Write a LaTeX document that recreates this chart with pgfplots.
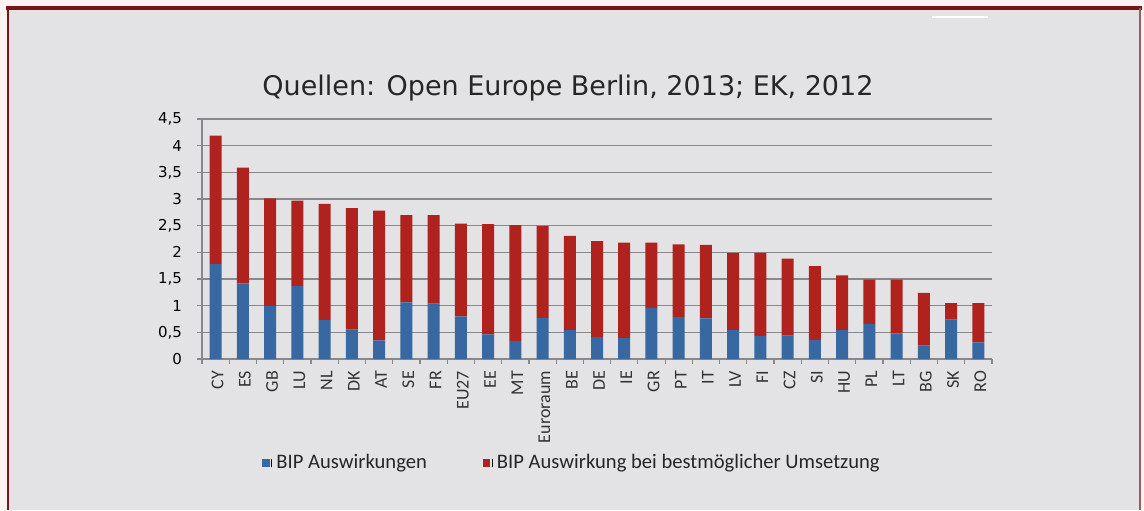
\documentclass[border=0pt]{standalone}
\usepackage{fontspec}
\setmainfont{Carlito}
\newfontfamily\dejavu{DejaVu Sans}
\usepackage{pgfplots}
\usepackage{pgfplotstable}
\pgfplotsset{compat=1.18}

\definecolor{bipblue}{RGB}{55,104,162}
\definecolor{bipred}{RGB}{176,34,30}
\definecolor{panel}{RGB}{227,227,229}
\definecolor{rahmen}{RGB}{120,20,22}
\definecolor{gitter}{RGB}{135,135,140}

% idx, Land, BIP Auswirkungen, Zusatz bei bestmoeglicher Umsetzung
\pgfplotstableread{
idx land blau rot
0  CY       1.78 2.41
1  ES       1.42 2.17
2  GB       0.99 2.02
3  LU       1.37 1.60
4  NL       0.73 2.18
5  DK       0.55 2.28
6  AT       0.35 2.43
7  SE       1.06 1.64
8  FR       1.04 1.66
9  EU27     0.80 1.74
10 EE       0.46 2.07
11 MT       0.34 2.17
12 Euroraum 0.77 1.72
13 BE       0.54 1.77
14 DE       0.41 1.80
15 IE       0.39 1.79
16 GR       0.96 1.22
17 PT       0.79 1.36
18 IT       0.76 1.38
19 LV       0.54 1.45
20 FI       0.43 1.56
21 CZ       0.44 1.44
22 SI       0.36 1.38
23 HU       0.54 1.03
24 PL       0.66 0.83
25 LT       0.48 1.01
26 BG       0.25 0.99
27 SK       0.74 0.31
28 RO       0.31 0.74
}\daten

\begin{document}
\begin{tikzpicture}
\useasboundingbox (0,0) rectangle (572pt,255pt);
\fill[white!95!red] (0,0) rectangle (572pt,255pt);
\fill[panel] (4pt,0) rectangle (570pt,251pt);
\draw[rahmen, line width=2pt] (3pt,251pt) -- (571pt,251pt);
\draw[rahmen, line width=1pt] (4pt,251pt) -- (4pt,0);
\draw[rahmen!70, line width=0.6pt] (570pt,251pt) -- (570pt,0);
\draw[white, line width=0.8pt] (466pt,246.5pt) -- (494pt,246.5pt);
\node[font=\dejavu\fontsize{13.5}{16}\selectfont, text=black!85] at (284pt,211pt) {Quellen: Open Europe Berlin, 2013; EK, 2012};

\begin{axis}[
    at={(101pt,75.5pt)}, anchor=south west,
    scale only axis,
    width=395pt, height=120pt,
    ybar stacked, bar width=6pt,
    xmin=-0.5, xmax=28.5,
    ymin=0, ymax=4.5,
    ytick={0,0.5,...,4.5},
    xtick=data,
    xticklabels from table={\daten}{land},
    minor xtick={-0.5,0.5,...,28.5},
    axis x line=bottom, axis y line=left,
    axis line style={gitter, line width=0.8pt, -},
    ymajorgrids,
    major grid style={gitter, line width=0.8pt},
    tick align=outside,
    x tick style={draw=none},
    minor x tick style={draw=gitter, line width=0.6pt},
    minor tick length=2.5pt,
    y tick style={draw=gitter, line width=0.6pt},
    major tick length=2.5pt,
    /pgf/number format/assume math mode=true,
    /pgf/number format/use comma,
    /pgf/number format/fixed,
    yticklabel style={font=\dejavu\fontsize{7.5}{9}\selectfont, text=black, xshift=-4pt},
    xticklabel style={font=\fontsize{9}{10}\selectfont, text=black!80, rotate=90, anchor=east, yshift=-1pt},
    legend columns=2,
    legend style={at={(0.4696,-0.433)}, anchor=center, draw=none, fill=none,
        font=\fontsize{10.3}{12}\selectfont, text=black!85,
        /tikz/every even column/.append style={column sep=26pt}},
    legend image code/.code={
        \fill[#1, draw=none] (0pt,-1.9pt) rectangle (3.8pt,1.9pt);
        \draw[black, line width=0.5pt] (4.8pt,-2.2pt) -- (4.8pt,2.2pt);
    },
]
\addplot[fill=bipblue, draw=none] table[x=idx, y=blau] {\daten};
\addlegendentry{BIP Auswirkungen}
\addplot[fill=bipred, draw=none] table[x=idx, y=rot] {\daten};
\addlegendentry{BIP Auswirkung bei bestmöglicher Umsetzung}
\end{axis}
\end{tikzpicture}
\end{document}
